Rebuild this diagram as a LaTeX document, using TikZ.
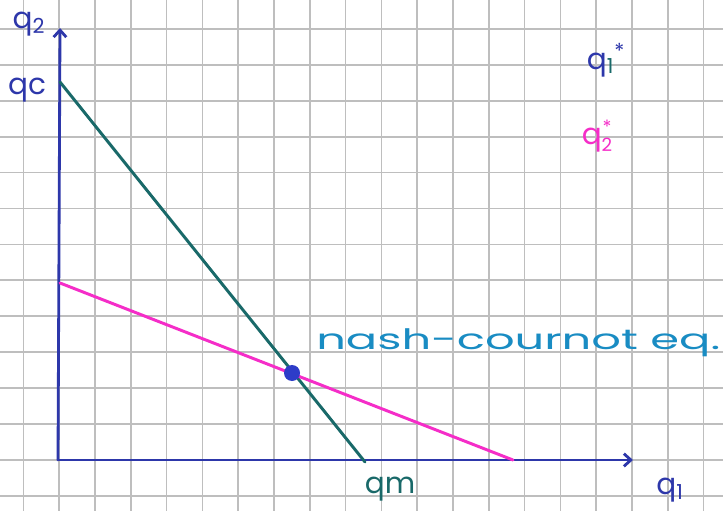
\documentclass[tikz,border=0pt]{standalone}
\usepackage{fontspec}
\setmainfont{Poppins}
\usetikzlibrary{arrows.meta}
\definecolor{gridgray}{RGB}{190,190,190}
\definecolor{axisblue}{RGB}{45,55,170}
\definecolor{bestgreen}{RGB}{25,105,105}
\definecolor{bestpink}{RGB}{245,45,200}
\definecolor{dotblue}{RGB}{45,60,200}
\definecolor{nashblue}{RGB}{25,140,195}
\newcommand{\qstack}[1]{q\raisebox{-5pt}{\fontsize{13}{11}\selectfont\shortstack{*\\#1}}}
\begin{document}
\begin{tikzpicture}[x=0.025cm,y=-0.025cm]
\tikzset{
    cnAxis/.style={draw=axisblue,line width=2pt,line cap=round},
    cnBest/.style={line width=2.1pt,line cap=round},
    cnLabel/.style={font=\fontsize{21}{24}\selectfont,inner sep=0pt},
    cnTip/.style={-{Straight Barb[length=5pt,width=9pt]}}
}
\useasboundingbox[fill=white] (0,0) rectangle (723,511);
% squared paper
\foreach \gx in {0,...,19}
    \draw[gridgray,line width=1.2pt] ({23.4+35.8*\gx},0) -- ({23.4+35.8*\gx},511);
\foreach \gy in {0,...,13}
    \draw[gridgray,line width=1.2pt] (0,{29+35.9*\gy}) -- (723,{29+35.9*\gy});

\coordinate (O) at (58,460);     % origin
\coordinate (Ytop) at (60,28);   % end of q2 axis
\coordinate (Xend) at (633,460); % end of q1 axis
\coordinate (QC) at (60,82);     % qc
\coordinate (QM) at (365,462);   % qm
\coordinate (PA) at (60,283);    % pink on q2 axis
\coordinate (PB) at (513,460);   % pink on q1 axis

\draw[cnAxis,cnTip] (O) -- (Ytop);
\draw[cnAxis,cnTip] (O) -- (Xend);
\draw[cnBest,draw=bestgreen] (QC) -- (QM);
\draw[cnBest,draw=bestpink] (PA) -- (PB);
\node[circle,fill=dotblue,inner sep=0pt,minimum size=0.4cm] (NE) at (292,373) {};

\node[cnLabel,text=axisblue] (lqTwo) at (29,24) {q\textsubscript{2}};
\node[cnLabel,text=axisblue] (lqc) at (27,90) {qc};
\node[cnLabel,text=bestgreen] (lqm) at (390,489) {qm};
\node[cnLabel,text=axisblue] (lqOne) at (670,490) {q\textsubscript{1}};
\node[cnLabel,text=axisblue] (lqOneStar) at (606,60) {q\textcolor{bestgreen}{\textsubscript{1}}\textsuperscript{*}};
\node[cnLabel,text=bestpink] (lqTwoStar) at (597,136) {\qstack{2}};
\node[cnLabel,text=nashblue,anchor=west,font=\fontsize{20}{24}\selectfont] (lnash) at (316,343) {\scalebox{1.65}[1]{nash-cournot eq.}};
\end{tikzpicture}
\end{document}
